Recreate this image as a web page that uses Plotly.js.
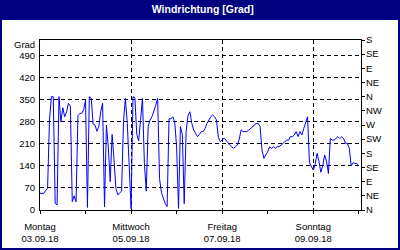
<!DOCTYPE html>
<html><head><meta charset="utf-8">
<script src="https://cdn.plot.ly/plotly-3.0.1.min.js"></script>
<style>html,body{margin:0;padding:0;background:#fff}#chart{width:400px;height:250px}</style>
</head><body><div id="chart"></div>
<script>
// hourly wind direction readings [Grad], starting Monday 03.09.18 00:00
const startTime = Date.UTC(2018, 8, 3, 0, 0);
const windDir = [
  53, 53, 53, 62, 69, 286, 360, 360, 21, 16, 360, 280, 325, 296, 312, 339, 330, 26, 45, 26,
  300, 307, 307, 318, 349, 8, 360, 355, 273, 270, 250, 265, 312, 339, 10, 270, 200, 90, 240, 160,
  69, 48, 55, 60, 281, 355, 275, 140, 5, 360, 357, 240, 220, 285, 355, 150, 60, 265, 286, 296,
  312, 333, 355, 100, 55, 35, 20, 11, 290, 290, 296, 280, 200, 5, 265, 240, 20, 250, 300, 312,
  275, 254, 244, 233, 240, 249, 249, 259, 275, 286, 296, 302, 296, 286, 230, 217, 222, 228, 222, 212,
  206, 201, 196, 201, 206, 225, 255, 249, 249, 249, 254, 259, 265, 270, 275, 275, 265, 190, 164, 175,
  185, 201, 196, 201, 196, 201, 201, 206, 212, 217, 222, 222, 233, 233, 238, 249, 233, 249, 238, 259,
  280, 296, 150, 138, 127, 145, 180, 155, 120, 140, 175, 155, 116, 227, 222, 222, 227, 233, 227, 233,
  227, 212, 212, 196, 140, 150, 148, 148, 140
];
const times = windDir.map((v, i) => new Date(startTime + i * 3600e3).toISOString().slice(0, 16).replace('T', ' '));

const labelDays = ['2018-09-03', '2018-09-05', '2018-09-07', '2018-09-09'];
const dayNames = ['Montag', 'Mittwoch', 'Freitag', 'Sonntag'];
const dayDates = ['03.09.18', '05.09.18', '07.09.18', '09.09.18'];
const allDays = ['2018-09-03', '2018-09-04', '2018-09-05', '2018-09-06', '2018-09-07', '2018-09-08', '2018-09-09', '2018-09-10'];
const gradTicks = [0, 70, 140, 210, 280, 350, 420, 490];
const compassVals = [0, 45, 90, 135, 180, 225, 270, 315, 360, 405, 450, 495, 540];
const compassLabels = ['N', 'NE', 'E', 'SE', 'S', 'SW', 'W', 'NW', 'N', 'NE', 'E', 'SE', 'S'];
const xRange = ['2018-09-03 00:00', '2018-09-10 01:10'];
const yRange = [0, 540];

const FONT = 'Liberation Sans, Arial, sans-serif';
const dash = '4px,3px';

const traces = [
  {x: times, y: windDir, type: 'scatter', mode: 'lines', line: {color: '#0000ff', width: 1}, hoverinfo: 'skip'},
  {x: [], y: [], type: 'scatter', yaxis: 'y2', hoverinfo: 'skip'},
  {x: [], y: [], type: 'scatter', xaxis: 'x2', hoverinfo: 'skip'}
];

const layout = {
  width: 400, height: 250,
  margin: {l: 40, r: 39, t: 40, b: 40, pad: 0},
  paper_bgcolor: '#000080', plot_bgcolor: '#ffffff',
  showlegend: false,
  font: {family: FONT, size: 9.5, color: '#000'},
  title: {text: 'Windrichtung [Grad]', font: {family: FONT, size: 10.5, color: '#ffffff', weight: 'bold'},
          x: 0.507, xref: 'container', xanchor: 'center', y: 0.964, yref: 'container', yanchor: 'middle'},
  xaxis: {type: 'date', range: xRange, tickmode: 'array', tickvals: labelDays, ticktext: dayNames,
          ticks: 'outside', ticklen: 3, tickcolor: '#000', showline: true, linecolor: '#000', linewidth: 1, mirror: true,
          showgrid: true, gridcolor: '#000', griddash: dash, gridwidth: 1, zeroline: false, fixedrange: true,
          ticklabelstandoff: 5,
          minor: {tickvals: allDays, ticks: 'outside', ticklen: 3, tickcolor: '#000', showgrid: false}},
  xaxis2: {type: 'date', range: xRange, overlaying: 'x', side: 'bottom', anchor: 'y', tickmode: 'array',
           tickvals: labelDays, ticktext: dayDates, ticks: '', showline: false, showgrid: false, zeroline: false,
           ticklabelstandoff: 21, fixedrange: true},
  yaxis: {range: yRange, tickmode: 'array', tickvals: gradTicks, ticks: '', showline: true, linecolor: '#000', mirror: true,
          showgrid: true, gridcolor: '#000', griddash: dash, gridwidth: 1, zeroline: false, fixedrange: true, ticklabelstandoff: 2},
  yaxis2: {range: yRange, overlaying: 'y', side: 'right', tickmode: 'array', tickvals: compassVals, ticktext: compassLabels,
           ticks: 'outside', ticklen: 3, tickcolor: '#000', showline: true, linecolor: '#000', showgrid: false, zeroline: false,
           fixedrange: true, ticklabelstandoff: -1},
  shapes: [{type: 'rect', xref: 'paper', yref: 'paper', x0: -0.1184, x1: 1.1153, y0: -0.2235, y1: 1.1176,
            fillcolor: '#ffffff', line: {width: 0}, layer: 'below'}],
  annotations: [{text: 'Grad', xref: 'paper', yref: 'paper', x: -0.0093, y: 0.976, xanchor: 'right', yanchor: 'middle',
                 showarrow: false, font: {family: FONT, size: 9.5, color: '#000'}}]
};

Plotly.newPlot('chart', traces, layout, {displayModeBar: false, staticPlot: true});
</script></body></html>
